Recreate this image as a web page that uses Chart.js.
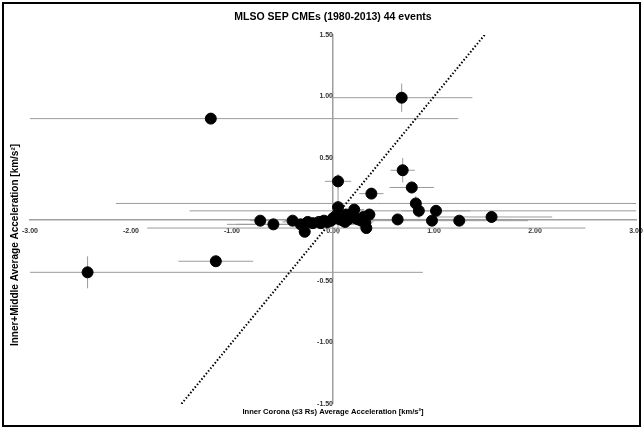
<!DOCTYPE html>
<html>
<head>
<meta charset="utf-8">
<script src="https://cdn.jsdelivr.net/npm/chart.js@4/dist/chart.umd.min.js"></script>
<style>
  body { margin: 0; background: #fff; }
  canvas { display: block; }
</style>
</head>
<body>
<canvas id="cme-chart" width="644" height="430"></canvas>
<script>
// Event values (km/s^2)
const innerAccel = [-1.21, 0.68, -2.43, -1.16, 0.05, 0.69, 0.78, 0.38, 0.82, 0.85,
    1.02, 0.64, 0.98, 1.25, 1.57, -0.72, -0.59, -0.40, -0.32, -0.28,
    -0.20, -0.14, -0.09, -0.05, 0.00, 0.05, 0.13, 0.21, 0.15, 0.22,
    0.28, 0.32, 0.36, 0.33, 0.07, 0.10, 0.25, -0.02, 0.18, -0.25,
    0.30, 0.12, 0.03, -0.12];
const middleAccel = [0.82, 0.99, -0.43, -0.34, 0.31, 0.40, 0.26, 0.21, 0.13, 0.07,
    0.07, 0.00, -0.01, -0.01, 0.02, -0.01, -0.04, -0.01, -0.04, -0.10,
    -0.03, -0.02, -0.01, -0.02, 0.01, 0.10, 0.04, 0.08, 0.00, 0.01,
    -0.01, -0.03, 0.04, -0.07, 0.00, -0.01, 0.00, -0.01, 0.02, -0.02,
    0.02, -0.02, 0.03, -0.03];
// Error bar half widths
const innerErr = [2.45, 0.70, 3.32, 0.37, 0.13, 0.12, 0.22, 0.12, 2.97, 2.27,
    0.34, 1.14, 0.95, 0.08, 0.60, 0.10, 0.46, 0.08, 0.64, 0.06,
    0.08, 0.06, 0.06, 0.45, 0.08, 0.06, 0.08, 0.10, 0.06, 0.08,
    0.06, 0.06, 0.06, 2.17, 0.06, 0.06, 0.06, 0.06, 0.06, 0.06,
    0.06, 0.06, 0.06, 0.06];
const middleErr = [0.04, 0.115, 0.13, 0.00, 0.06, 0.10, 0.05, 0.03, 0.06, 0.06,
    0.02, 0.02, 0.02, 0.02, 0.05, 0.00, 0.00, 0.00, 0.00, 0.02,
    0.00, 0.00, 0.00, 0.00, 0.02, 0.22, 0.02, 0.02, 0.00, 0.00,
    0.00, 0.00, 0.02, 0.02, 0.00, 0.00, 0.00, 0.00, 0.00, 0.00,
    0.00, 0.00, 0.00, 0.00];

// y = x reference line
const refLineX = [-1.5, 1.52];
const refLineY = [-1.5, 1.52];

const xTicks = [-3, -2, -1, 0, 1, 2, 3];
const yTicks = [-1.5, -1, -0.5, 0, 0.5, 1, 1.5];

const chartTitle = 'MLSO SEP CMEs (1980-2013) 44 events';
const xTitle = 'Inner Corona (≤3 Rs) Average Acceleration [km/s²]';
const yTitle = 'Inner+Middle Average Acceleration [km/s²]';

const narrow = "'Liberation Sans Narrow', 'Liberation Sans', Arial, sans-serif";

const errorBars = {
    id: 'errorBars',
    beforeDatasetsDraw(chart) {
        const { ctx, chartArea, scales: { x, y } } = chart;
        ctx.save();
        ctx.beginPath();
        ctx.rect(chartArea.left, chartArea.top, chartArea.width, chartArea.height);
        ctx.clip();
        ctx.strokeStyle = '#9b9b9b';
        ctx.lineWidth = 1;
        innerAccel.forEach((xv, i) => {
            const yv = middleAccel[i];
            const px = x.getPixelForValue(xv);
            const py = y.getPixelForValue(yv);
            ctx.beginPath();
            if (innerErr[i]) {
                ctx.moveTo(x.getPixelForValue(xv - innerErr[i]), py);
                ctx.lineTo(x.getPixelForValue(xv + innerErr[i]), py);
            }
            if (middleErr[i]) {
                ctx.moveTo(px, y.getPixelForValue(yv - middleErr[i]));
                ctx.lineTo(px, y.getPixelForValue(yv + middleErr[i]));
            }
            ctx.stroke();
        });
        ctx.restore();
    }
};

// outer frame + rotated y title (Excel puts it a bit below centre)
const frame = {
    id: 'frame',
    afterDraw(chart) {
        const ctx = chart.ctx;
        ctx.save();
        ctx.strokeStyle = '#000';
        ctx.lineWidth = 2;
        ctx.strokeRect(3, 3, 637, 423);
        ctx.translate(15, 245);
        ctx.rotate(-Math.PI / 2);
        ctx.fillStyle = '#000';
        ctx.font = 'bold 10px ' + narrow;
        ctx.textAlign = 'center';
        ctx.textBaseline = 'middle';
        ctx.fillText(yTitle, 0, 0);
        ctx.restore();
    }
};

function createCmeChart() {
    const node = document.getElementById('cme-chart');

    new Chart(node, {
        type: 'scatter',
        data: {
            datasets: [{
                label: 'Events',
                data: innerAccel.map((v, i) => ({ x: v, y: middleAccel[i] })),
                backgroundColor: '#000',
                borderColor: '#000',
                pointRadius: 5.5,
            }, {
                label: 'y = x',
                data: refLineX.map((v, i) => ({ x: v, y: refLineY[i] })),
                showLine: true,
                pointRadius: 0,
                borderColor: '#000',
                borderWidth: 2,
                borderDash: [1.5, 2],
            }],
        },
        options: {
            responsive: false,
            animation: false,
            devicePixelRatio: 1,
            layout: {
                padding: { left: 30, right: 8, bottom: 10, top: 0 },
            },
            plugins: {
                legend: { display: false },
                tooltip: { enabled: false },
                title: {
                    display: true,
                    text: chartTitle,
                    color: '#000',
                    font: { family: narrow, size: 10.5, weight: 'bold' },
                    padding: { top: 11, bottom: 11.4 },
                },
            },
            scales: {
                x: {
                    type: 'linear',
                    position: { y: 0 },
                    min: -3,
                    max: 3,
                    afterBuildTicks: axis => { axis.ticks = xTicks.map(v => ({ value: v })); },
                    // let the end labels run past the plot edge like Excel does
                    afterFit: axis => { axis.paddingLeft = 0; axis.paddingRight = 0; },
                    grid: { display: false, drawTicks: false },
                    border: { display: true, color: '#a0a0a0', width: 1.5 },
                    ticks: {
                        color: '#333',
                        padding: 7,
                        maxRotation: 0,
                        font: { family: 'Liberation Sans', size: 7, weight: 'bold' },
                        callback: v => v.toFixed(2),
                    },
                },
                y: {
                    type: 'linear',
                    position: { x: 0 },
                    min: -1.5,
                    max: 1.5,
                    afterBuildTicks: axis => { axis.ticks = yTicks.map(v => ({ value: v })); },
                    grid: { display: false, drawTicks: false },
                    border: { display: true, color: '#a0a0a0', width: 1.5 },
                    ticks: {
                        color: '#333',
                        padding: 5,
                        font: { family: 'Liberation Sans', size: 7, weight: 'bold' },
                        callback: v => v.toFixed(2),
                    },
                },
                xTitle: {
                    type: 'linear',
                    position: 'bottom',
                    min: -3,
                    max: 3,
                    grid: { display: false, drawTicks: false },
                    border: { display: false },
                    ticks: { display: false },
                    title: {
                        display: true,
                        text: xTitle,
                        color: '#000',
                        font: { family: narrow, size: 7.6, weight: 'bold' },
                        padding: { top: 3, bottom: 4 },
                    },
                },
            },
        },
        plugins: [errorBars, frame],
    });
}

createCmeChart();
</script>
</body>
</html>
